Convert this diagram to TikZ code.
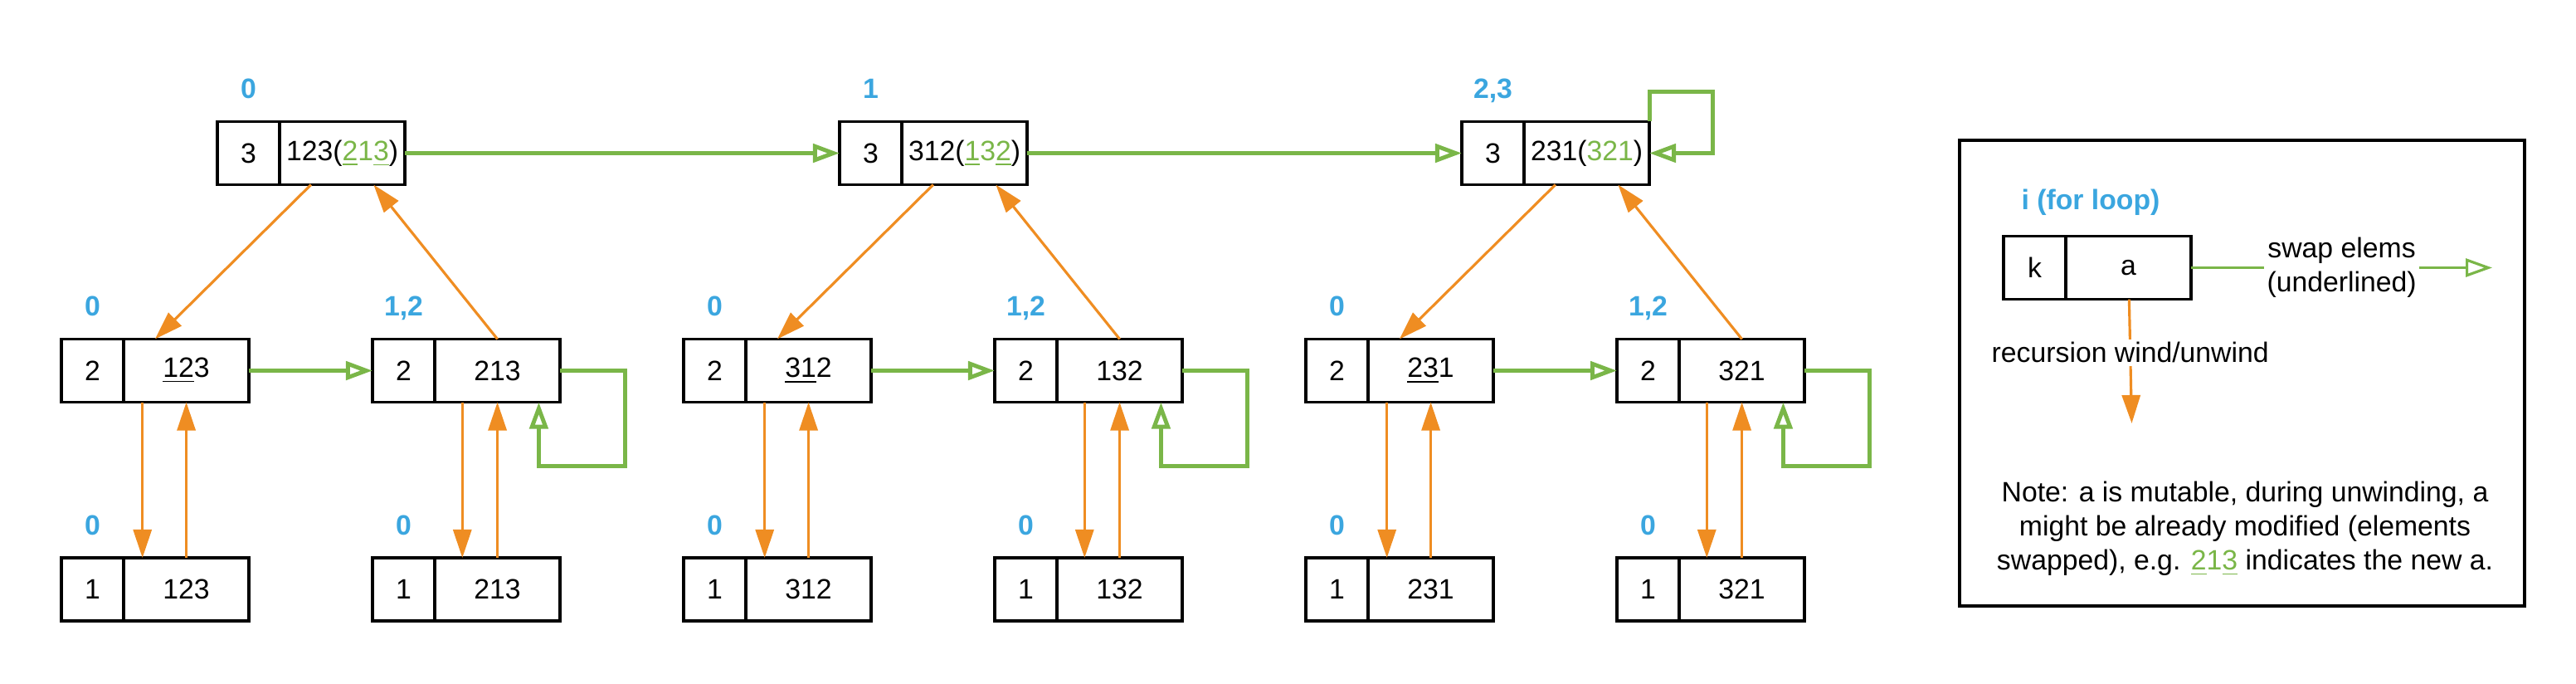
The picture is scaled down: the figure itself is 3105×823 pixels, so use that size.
\documentclass[tikz,border=0pt]{standalone}
\usepackage{fontspec}
\setmainfont{Liberation Sans}
\usetikzlibrary{calc,positioning,arrows.meta}
\definecolor{swapgreen}{HTML}{7AB648}
\definecolor{windorange}{HTML}{EF8D22}
\definecolor{loopblue}{HTML}{3BA6DF}
\tikzset{
	cell/.style={draw, line width=1pt, minimum height=0.76cm, inner sep=0pt, outer sep=0pt},
	kcell/.style={cell, minimum width=0.75cm, anchor=west},
	acell/.style={cell, minimum width=1.51cm},
	idx/.style={text=loopblue, font=\fontsize{9.6}{11.6}\selectfont\bfseries, inner sep=0pt, text height=6.9pt, text depth=0pt},
	swap/.style={draw=swapgreen, line width=1.4pt, -{Triangle[open, length=0.32cm, width=0.22cm]}},
	wind/.style={draw=windorange, line width=0.9pt, -{Triangle[length=0.34cm, width=0.22cm]}},
}
\def\permbox(#1)(#2,#3)#4#5{\node[kcell] (k#1) at (#2,#3) {#4}; \node[acell, right=0pt of k#1] (a#1) {#5};}
\newcommand\gr[1]{\textcolor{swapgreen}{#1}}

\begin{document}
\begin{tikzpicture}[x=0.01cm, y=-0.01cm, every node/.style={font=\fontsize{9.6}{11.6}\selectfont}]
		%%%%% START %%%%%
		\useasboundingbox (0,0) rectangle (3105,823);
		
		\permbox(T1)(262,184.5){3}{123(\gr{\underline{2}1\underline{3}})}
		\permbox(T2)(1012,184.5){3}{312(\gr{\underline{1}3\underline{2}})}
		\permbox(T3)(1762,184.5){3}{231(\gr{321})}
		\node[idx, above=0.27cm of kT1] (iT1) {0};
		\node[idx, above=0.27cm of kT2] (iT2) {1};
		\node[idx, above=0.27cm of kT3] (iT3) {2,3};
		
		\permbox(M1)(74,446.5){2}{\underline{12}3}
		\permbox(M2)(449,446.5){2}{213}
		\permbox(M3)(824,446.5){2}{\underline{31}2}
		\permbox(M4)(1199,446.5){2}{132}
		\permbox(M5)(1574,446.5){2}{\underline{23}1}
		\permbox(M6)(1949,446.5){2}{321}
		\node[idx, above=0.27cm of kM1] (iM1) {0};
		\node[idx, above=0.27cm of kM2] (iM2) {1,2};
		\node[idx, above=0.27cm of kM3] (iM3) {0};
		\node[idx, above=0.27cm of kM4] (iM4) {1,2};
		\node[idx, above=0.27cm of kM5] (iM5) {0};
		\node[idx, above=0.27cm of kM6] (iM6) {1,2};
		
		\permbox(B1)(74,710){1}{123}
		\permbox(B2)(449,710){1}{213}
		\permbox(B3)(824,710){1}{312}
		\permbox(B4)(1199,710){1}{132}
		\permbox(B5)(1574,710){1}{231}
		\permbox(B6)(1949,710){1}{321}
		\node[idx, above=0.27cm of kB1] (iB1) {0};
		\node[idx, above=0.27cm of kB2] (iB2) {0};
		\node[idx, above=0.27cm of kB3] (iB3) {0};
		\node[idx, above=0.27cm of kB4] (iB4) {0};
		\node[idx, above=0.27cm of kB5] (iB5) {0};
		\node[idx, above=0.27cm of kB6] (iB6) {0};
		
		% swaps
		\draw[swap] (aT1) -- (kT2);
		\draw[swap] (aT2) -- (kT3);
		\draw[swap] (aT3.north east) -- ++(0,-36) -- ++(76,0) |- (aT3.east);
		\draw[swap] (aM1) -- (kM2);
		\draw[swap] (aM3) -- (kM4);
		\draw[swap] (aM5) -- (kM6);
		\draw[swap] (aM2.east) -- ++(78,0) -- ++(0,115) -| ($(aM2.south west)!.83!(aM2.south east)$);
		\draw[swap] (aM4.east) -- ++(78,0) -- ++(0,115) -| ($(aM4.south west)!.83!(aM4.south east)$);
		\draw[swap] (aM6.east) -- ++(78,0) -- ++(0,115) -| ($(aM6.south west)!.83!(aM6.south east)$);
		
		% wind / unwind, top to middle
		\draw[wind] ($(aT1.south west)!.25!(aT1.south east)$) -- ($(aM1.north west)!.25!(aM1.north east)$);
		\draw[wind] (aM2.north) -- ($(aT1.south west)!.75!(aT1.south east)$);
		\draw[wind] ($(aT2.south west)!.25!(aT2.south east)$) -- ($(aM3.north west)!.25!(aM3.north east)$);
		\draw[wind] (aM4.north) -- ($(aT2.south west)!.75!(aT2.south east)$);
		\draw[wind] ($(aT3.south west)!.25!(aT3.south east)$) -- ($(aM5.north west)!.25!(aM5.north east)$);
		\draw[wind] (aM6.north) -- ($(aT3.south west)!.75!(aT3.south east)$);
		
		% wind / unwind, middle to bottom
		\draw[wind] ($(aM1.south west)!.15!(aM1.south east)$) -- ($(aB1.north west)!.15!(aB1.north east)$);
		\draw[wind] (aB1.north) -- (aM1.south);
		\draw[wind] ($(aM2.south west)!.22!(aM2.south east)$) -- ($(aB2.north west)!.22!(aB2.north east)$);
		\draw[wind] (aB2.north) -- (aM2.south);
		\draw[wind] ($(aM3.south west)!.15!(aM3.south east)$) -- ($(aB3.north west)!.15!(aB3.north east)$);
		\draw[wind] (aB3.north) -- (aM3.south);
		\draw[wind] ($(aM4.south west)!.22!(aM4.south east)$) -- ($(aB4.north west)!.22!(aB4.north east)$);
		\draw[wind] (aB4.north) -- (aM4.south);
		\draw[wind] ($(aM5.south west)!.15!(aM5.south east)$) -- ($(aB5.north west)!.15!(aB5.north east)$);
		\draw[wind] (aB5.north) -- (aM5.south);
		\draw[wind] ($(aM6.south west)!.22!(aM6.south east)$) -- ($(aB6.north west)!.22!(aB6.north east)$);
		\draw[wind] (aB6.north) -- (aM6.south);
		
		% legend
		\draw[line width=1pt] (2362,169) rectangle (3043,730);
		\node[idx] (iL) at (2520,240) {i (for loop)};
		\permbox(L)(2415,322.5){k}{a}
		\coordinate (swapend) at (3004,322.5);
		\coordinate (windend) at (2569.5,510);
		\draw[swap, line width=0.9pt] (aL) -- node[fill=white, align=center, inner sep=1pt] (swaptext) {swap elems\\(underlined)} (swapend);
		\draw[wind] (aL) -- node[pos=0.43, fill=white, inner sep=1pt] (windtext) {recursion wind/unwind} (windend);
		\node[align=center] (note) at (2706,637) {Note: a is mutable, during unwinding, a\\might be already modified (elements\\swapped), e.g. \gr{\underline{2}1\underline{3}} indicates the new a.};
		
		%%%%% END %%%%%
\end{tikzpicture}
\end{document}
